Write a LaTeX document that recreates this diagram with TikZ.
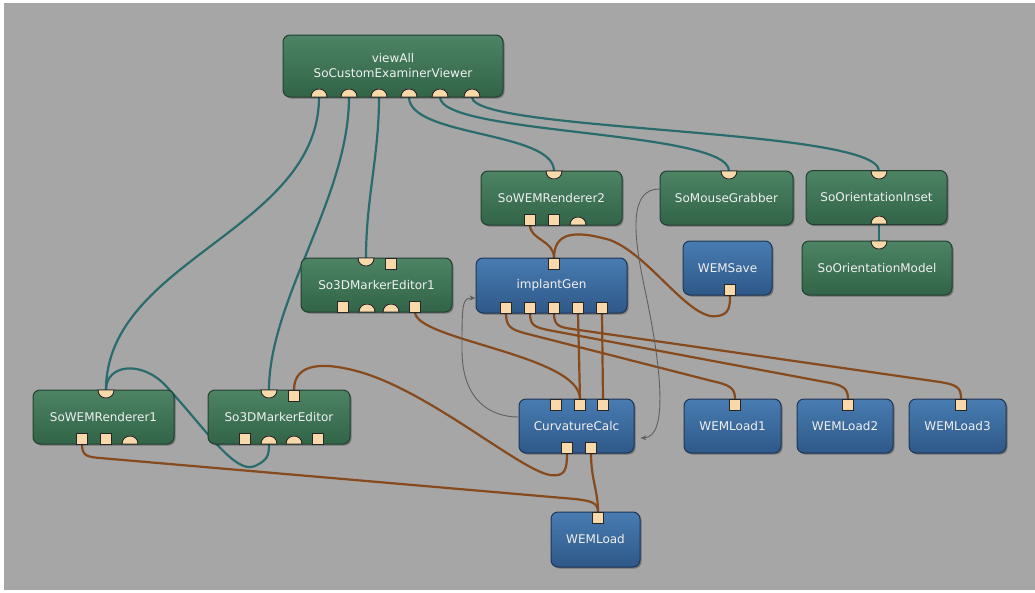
\documentclass[tikz,border=0pt]{standalone}
\usepackage{fontspec}
\setmainfont{DejaVu Sans}
\usetikzlibrary{arrows.meta,shadows}
\definecolor{bgc}{RGB}{166,166,166}
\definecolor{gtop}{RGB}{76,132,100}
\definecolor{gbot}{RGB}{50,100,72}
\definecolor{gbord}{RGB}{36,64,48}
\definecolor{btop}{RGB}{72,124,178}
\definecolor{bbot}{RGB}{46,88,136}
\definecolor{bbord}{RGB}{30,54,86}
\definecolor{txtc}{RGB}{240,240,240}
\definecolor{portc}{RGB}{249,216,170}
\definecolor{tealc}{RGB}{42,108,110}
\definecolor{brownc}{RGB}{134,74,28}
\definecolor{grayc}{RGB}{96,96,96}
\pgfdeclarelayer{bglayer}
\pgfdeclarelayer{wirelayer}
\pgfsetlayers{bglayer,wirelayer,main}
\newcommand{\PortSqB}[3]{\coordinate (#1) at (#2,#3); \draw[portsty] (#2-5.5,#3) rectangle (#2+5.5,#3-11);}
\newcommand{\PortSqT}[3]{\coordinate (#1) at (#2,#3); \draw[portsty] (#2-5.5,#3) rectangle (#2+5.5,#3+11);}
\newcommand{\PortSemiB}[3]{\coordinate (#1) at (#2,#3); \draw[portsty] (#2-8,#3) .. controls (#2-8,#3-10.67) and (#2+8,#3-10.67) .. (#2+8,#3) -- cycle;}
\newcommand{\PortSemiT}[3]{\coordinate (#1) at (#2,#3); \draw[portsty] (#2-8,#3) .. controls (#2-8,#3+10.67) and (#2+8,#3+10.67) .. (#2+8,#3) -- cycle;}
\begin{document}
\begin{tikzpicture}[x=1pt,y=-1pt,
  modnode/.style={rectangle, rounded corners=7pt, line width=1pt, text=txtc,
    font=\fontsize{12}{15}\selectfont, align=center, inner sep=0pt,
    drop shadow={shadow xshift=1.5pt, shadow yshift=-1.5pt, opacity=0.3, fill=black}},
  gnode/.style={modnode, top color=gtop, bottom color=gbot, draw=gbord},
  bnode/.style={modnode, top color=btop, bottom color=bbot, draw=bbord},
  portsty/.style={fill=portc, draw=black!85, line width=0.9pt},
  tealwire/.style={draw=tealc, line width=2.2pt},
  brownwire/.style={draw=brownc, line width=2.2pt},
  paramwire/.style={draw=grayc, line width=0.9pt, -{Stealth[length=6pt,width=5pt]}}]
\useasboundingbox (0,0) rectangle (1035,592);
\begin{pgfonlayer}{bglayer}
\fill[white] (0,0) rectangle (1035,592);
\fill[bgc] (4,3) rectangle (1035,590);
\end{pgfonlayer}

% modules
\node[gnode, minimum width=220, minimum height=62] (ie) at (393,66) {viewAll\\SoCustomExaminerViewer};
\node[gnode, minimum width=141, minimum height=54] (wr2) at (551.5,198) {SoWEMRenderer2};
\node[gnode, minimum width=133, minimum height=54] (mg) at (726.5,198) {SoMouseGrabber};
\node[gnode, minimum width=141, minimum height=54] (oi) at (876.5,197.5) {SoOrientationInset};
\node[gnode, minimum width=150, minimum height=54] (om) at (877,268) {SoOrientationModel};
\node[bnode, minimum width=89, minimum height=54] (ws) at (727.5,268) {WEMSave};
\node[bnode, minimum width=151, minimum height=55] (ig) at (551.5,285.5) {implantGen};
\node[gnode, minimum width=151, minimum height=54] (me1) at (376.5,285) {So3DMarkerEditor1};
\node[gnode, minimum width=141, minimum height=54] (wr1) at (103.5,417) {SoWEMRenderer1};
\node[gnode, minimum width=142, minimum height=54] (me) at (279,417) {So3DMarkerEditor};
\node[bnode, minimum width=115, minimum height=54] (cc) at (576.5,426) {CurvatureCalc};
\node[bnode, minimum width=97, minimum height=54] (wl1) at (732.5,426) {WEMLoad1};
\node[bnode, minimum width=96, minimum height=54] (wl2) at (845,426) {WEMLoad2};
\node[bnode, minimum width=97, minimum height=54] (wl3) at (957.5,426) {WEMLoad3};
\node[bnode, minimum width=89, minimum height=55] (wl) at (595.5,539.5) {WEMLoad};

% ports
\PortSemiB{ie-1}{319}{97} \PortSemiB{ie-2}{349}{97} \PortSemiB{ie-3}{379}{97}
\PortSemiB{ie-4}{409}{97} \PortSemiB{ie-5}{440}{97} \PortSemiB{ie-6}{472}{97}
\PortSemiT{wr2-t}{554}{171}
\PortSqB{wr2-b1}{530}{225} \PortSqB{wr2-b2}{554}{225} \PortSemiB{wr2-b3}{578}{225}
\PortSemiT{mg-t}{729}{171}
\PortSemiT{oi-t}{879}{171} \PortSemiB{oi-b}{879}{224}
\PortSemiT{om-t}{879}{241}
\PortSqB{ws-b}{730}{295}
\PortSqT{ig-t}{554}{258}
\PortSqB{ig-b1}{506}{313} \PortSqB{ig-b2}{530}{313} \PortSqB{ig-b3}{554}{313}
\PortSqB{ig-b4}{578}{313} \PortSqB{ig-b5}{602}{313}
\PortSemiT{me1-t1}{366}{258} \PortSqT{me1-t2}{391}{258}
\PortSqB{me1-b1}{343}{312} \PortSemiB{me1-b2}{367}{312} \PortSemiB{me1-b3}{391}{312} \PortSqB{me1-b4}{415}{312}
\PortSemiT{wr1-t}{106}{390}
\PortSqB{wr1-b1}{82}{444} \PortSqB{wr1-b2}{106}{444} \PortSemiB{wr1-b3}{130}{444}
\PortSemiT{me-t1}{269}{390} \PortSqT{me-t2}{294}{390}
\PortSqB{me-b1}{245}{444} \PortSemiB{me-b2}{269}{444} \PortSemiB{me-b3}{294}{444} \PortSqB{me-b4}{318}{444}
\PortSqT{cc-t1}{556}{399} \PortSqT{cc-t2}{580}{399} \PortSqT{cc-t3}{603}{399}
\PortSqB{cc-b1}{567}{453} \PortSqB{cc-b2}{591}{453}
\PortSqT{wl1-t}{735}{399} \PortSqT{wl2-t}{848}{399} \PortSqT{wl3-t}{961}{399}
\PortSqT{wl-t}{598}{512}

\begin{pgfonlayer}{wirelayer}
% scene graph connections
\draw[tealwire] (ie-1) .. controls (319,230) and (106,260) .. (wr1-t);
\draw[tealwire] (ie-2) .. controls (349,197) and (269,300) .. (me-t1);
\draw[tealwire] (ie-3) .. controls (379,157) and (366,198) .. (me1-t1);
\draw[tealwire] (ie-4) .. controls (409,137) and (554,131) .. (wr2-t);
\draw[tealwire] (ie-5) .. controls (440,135) and (729,130) .. (mg-t);
\draw[tealwire] (ie-6) .. controls (472,132) and (879,128) .. (oi-t);
\draw[tealwire] (oi-b) -- (om-t);
\draw[tealwire] (wr1-t) .. controls (106,364) and (142,360) .. (166,386) .. controls (205,428) and (235,475) .. (255,466) .. controls (268,460) and (269,455) .. (me-b2);
% image / WEM connections
\draw[brownwire] (wr2-b1) .. controls (530,240) and (554,240) .. (ig-t);
\draw[brownwire] (ig-t) .. controls (554,232) and (575,230) .. (610,240) .. controls (650,255) and (690,322) .. (718,316) .. controls (730,314) and (730,305) .. (ws-b);
\draw[brownwire] (me1-b4) .. controls (415,340) and (580,355) .. (cc-t2);
\draw[brownwire] (ig-b4) -- (cc-t2);
\draw[brownwire] (ig-b5) -- (cc-t3);
\draw[brownwire] (ig-b1) .. controls (506,326) and (510,329) .. (524,333) -- (712,381) .. controls (730,385) and (735,388) .. (wl1-t);
\draw[brownwire] (ig-b2) .. controls (530,325) and (534,327) .. (548,330) -- (825,382) .. controls (843,385) and (848,388) .. (wl2-t);
\draw[brownwire] (ig-b3) .. controls (554,325) and (558,327) .. (572,329) -- (940,382) .. controls (958,385) and (961,388) .. (wl3-t);
\draw[brownwire] (me-t2) .. controls (294,362) and (325,362) .. (360,372) .. controls (430,392) and (520,470) .. (550,475) .. controls (565,477) and (567,470) .. (cc-b1);
\draw[brownwire] (cc-b2) .. controls (591,480) and (598,490) .. (wl-t);
\draw[brownwire] (wr1-b1) .. controls (82,455) and (86,457) .. (100,458) -- (575,499) .. controls (592,501) and (598,503) .. (wl-t);
% parameter connections
\draw[paramwire] ([yshift=9pt]mg.west) .. controls (630,189) and (632,230) .. (645,290) .. controls (662,370) and (668,437) .. ([xshift=6pt,yshift=-12pt]cc.east);
\draw[paramwire] ([yshift=9pt]cc.west) .. controls (490,417) and (462,400) .. (462,350) .. controls (462,305) and (462,298) .. ([yshift=-12.5pt]ig.west);
\end{pgfonlayer}
\end{tikzpicture}
\end{document}
